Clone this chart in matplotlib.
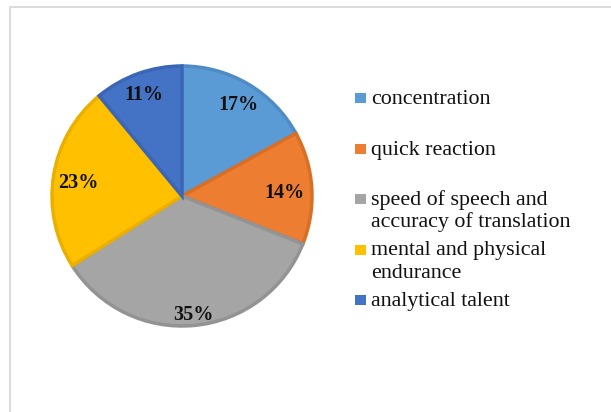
import matplotlib
matplotlib.use("Agg")
import numpy as np
import matplotlib.pyplot as plt
from matplotlib.patches import Rectangle

# shares in percent, clockwise from 12 o'clock
labels = ["concentration", "quick reaction",
          "speed of speech and\naccuracy of translation",
          "mental and physical\nendurance", "analytical talent"]
shares = [17, 14, 35, 23, 11]
colors = ["#5B9BD5", "#ED7D31", "#A5A5A5", "#FFC000", "#4472C4"]
edge_colors = ["#4F8CC6", "#D96E25", "#939393", "#EBAF00", "#3B66B5"]
# radial position of each percent label (fraction of radius), "best fit" look
label_dist = [0.85, 0.79, 0.89, 0.81, 0.86]

plt.rcParams["font.family"] = ["Liberation Serif", "DejaVu Serif"]

W, H = 611, 412
fig = plt.figure(figsize=(W / 100, H / 100), dpi=100)

# thin grey frame (top and left edges visible)
fig.add_artist(Rectangle((9.5 / W, -0.1), 1.2, 1.1 - 7.5 / H,
                         transform=fig.transFigure, fill=False,
                         edgecolor="#d4d4d4", lw=1.2))

cx, cy, r = 182, 196, 130
lim = 1.03
ax = fig.add_axes([(cx - r * lim) / W, (H - cy - r * lim) / H,
                   2 * r * lim / W, 2 * r * lim / H])
wedges, texts, autotexts = ax.pie(
    shares, colors=colors, startangle=90, counterclock=False,
    autopct="%d%%", pctdistance=0.84,
    wedgeprops=dict(linewidth=2.5, joinstyle="miter"),
    textprops=dict(fontsize=14.5, fontweight="bold", color="#111111"))
for w, ec, t, d in zip(wedges, edge_colors, autotexts, label_dist):
    w.set_edgecolor(ec)
    ang = np.deg2rad((w.theta1 + w.theta2) / 2)
    t.set_position((d * np.cos(ang), d * np.sin(ang) - 0.03))
ax.set_xlim(-lim, lim)
ax.set_ylim(-lim, lim)
ax.set_aspect("equal")

# legend: Excel style, evenly spaced slots, wrapped lines overflow
x_box, x_text = 355, 371
y0, step, line_h = 98, 50.5, 22.5
for i, (lab, col) in enumerate(zip(labels, colors)):
    y = y0 + i * step
    fig.add_artist(Rectangle((x_box / W, 1 - (y + 5) / H), 11 / W, 10 / H,
                             transform=fig.transFigure, color=col, lw=0))
    for k, line in enumerate(lab.split("\n")):
        fig.text(x_text / W, 1 - (y + 6 + k * line_h) / H, line,
                 fontsize=15.8, va="baseline", ha="left", color="#111111")

fig.savefig("out.png", dpi=100)
